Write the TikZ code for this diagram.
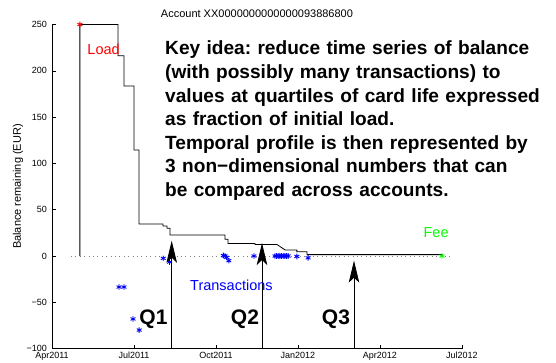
\documentclass[tikz,border=0pt]{standalone}
\usepackage{fontspec}
\setmainfont{Liberation Sans}
\usetikzlibrary{arrows.meta,plotmarks}
\frenchspacing

\begin{document}
\begin{tikzpicture}[x=27.33pt, y=0.926pt,
    axisline/.style={line width=0.6pt},
    qarrow/.style={line width=0.8pt, -{Stealth[length=22pt,width=10.5pt,inset=5pt]}},
    ticklabel/.style={inner sep=0pt, font=\fontsize{9}{10}\selectfont},
    plotlabel/.style={anchor=base west, inner sep=0pt, font=\fontsize{14.5}{17}\selectfont},
    qlabel/.style={anchor=base west, inner sep=0pt, font=\bfseries\fontsize{21}{24}\selectfont}]
      \useasboundingbox (-1.9027,-114.47) rectangle (18.441,276.46);
      % zero line and balance curve
      \draw[gray, dash pattern=on 0.8pt off 3.6pt] (0.695,0) -- (14.63,0);
      \draw[line width=0.8pt] (1.02,0) -- (1.02,250) -- (2.415,250) -- (2.415,216.3)
        -- (2.634,216.3) -- (2.634,183.6) -- (3.0,183.6) -- (3.0,114.5) -- (3.183,114.5)
        -- (3.183,34.6) -- (4.061,34.6) -- (4.061,32.4) -- (4.208,32.4) -- (4.208,30)
        -- (4.318,30) -- (4.318,22.7) -- (6.33,22.7) -- (6.33,18) -- (6.44,18) -- (6.44,13.5)
        -- (7.43,13.5) -- (7.43,12.5) -- (8.23,12.5) -- (8.53,6.5) -- (8.96,6.5) -- (8.96,4.5)
        -- (9.33,4.5) -- (9.33,1.5) -- (14.27,1.5) -- (14.27,0);
      \draw[red, line width=0.9pt] plot[only marks, mark=asterisk, mark size=2.8pt] coordinates {(1.02,250)};
      \draw[green, line width=0.9pt] plot[only marks, mark=asterisk, mark size=2.8pt] coordinates {(14.27,0)};
      \draw[blue, line width=0.9pt] plot[only marks, mark=asterisk, mark size=2.8pt] coordinates {
        (2.452,-33.5) (2.634,-33.5) (2.964,-68) (3.19,-80) (4.07,-2.5) (4.3,-6.5)
        (6.27,0.5) (6.33,0) (6.39,-1.5) (6.47,-5) (7.39,0)
        (8.16,0) (8.22,0) (8.28,0) (8.34,0) (8.4,0) (8.46,0) (8.52,0) (8.58,0) (8.64,0)
        (8.96,-0.5) (9.37,-2)};
      % quartile arrows
      \coordinate (q1foot) at (4.38,-100);
      \coordinate (q1tip)  at (4.38,16.5);
      \coordinate (q2foot) at (7.684,-100);
      \coordinate (q2tip)  at (7.684,14);
      \coordinate (q3foot) at (11.05,-100);
      \coordinate (q3tip)  at (11.05,-5);
      \draw[qarrow] (q1foot) -- (q1tip);
      \draw[qarrow] (q2foot) -- (q2tip);
      \draw[qarrow] (q3foot) -- (q3tip);
      \node[qlabel] (q1) at (3.194,-74.5) {Q1};
      \node[qlabel] (q2) at (6.54,-74.5)  {Q2};
      \node[qlabel] (q3) at (9.87,-74.5)  {Q3};
      % labels
      \node[plotlabel, red]   (load) at (1.29,217.1)  {Load};
      \node[plotlabel, blue]  (txn)  at (5.05,-37.3)  {Transactions};
      \node[plotlabel, green] (fee)  at (13.59,20.5)  {Fee};
      \node[anchor=base, inner sep=0pt, font=\fontsize{11}{13}\selectfont] (title) at (7.5,257.8)
        {Account XX0000000000000093886800};
      \node[rotate=90, inner sep=0pt, font=\fontsize{11}{13}\selectfont] (ylab) at (-1.244,75)
        {Balance remaining (EUR)};
      \node[anchor=base west, inner sep=0pt, text width=400pt, align=left,
        font=\bfseries\fontsize{19.1}{23.6}\selectfont] (idea) at (4.135,217.1)
        {Key idea: reduce time series of balance\\
         (with possibly many transactions) to\\
         values at quartiles of card life expressed\\
         as fraction of initial load.\\
         Temporal profile is then represented by\\
         3 non−dimensional numbers that can\\
         be compared across accounts.};
      % axes
      \draw[axisline] (0,250) -- (0,-100) -- (15,-100);
      \foreach \v/\t in {250/250,200/200,150/150,100/100,50/50,0/0,-50/−50,-100/−100} {
        \draw[axisline] (0,\v) -- ++(4pt,0);
        \node[ticklabel, anchor=east] (ytick\v) at (-0.18,\v) {\t};
      }
      \foreach \m/\t in {0/Apr2011,3/Jul2011,6/Oct2011,9/Jan2012,12/Apr2012,15/Jul2012} {
        \draw[axisline] (\m,-100) -- ++(0,4pt);
        \node[ticklabel, anchor=base] (xtick\m) at (\m,-111.2) {\t};
      }
    \end{tikzpicture}
\end{document}
